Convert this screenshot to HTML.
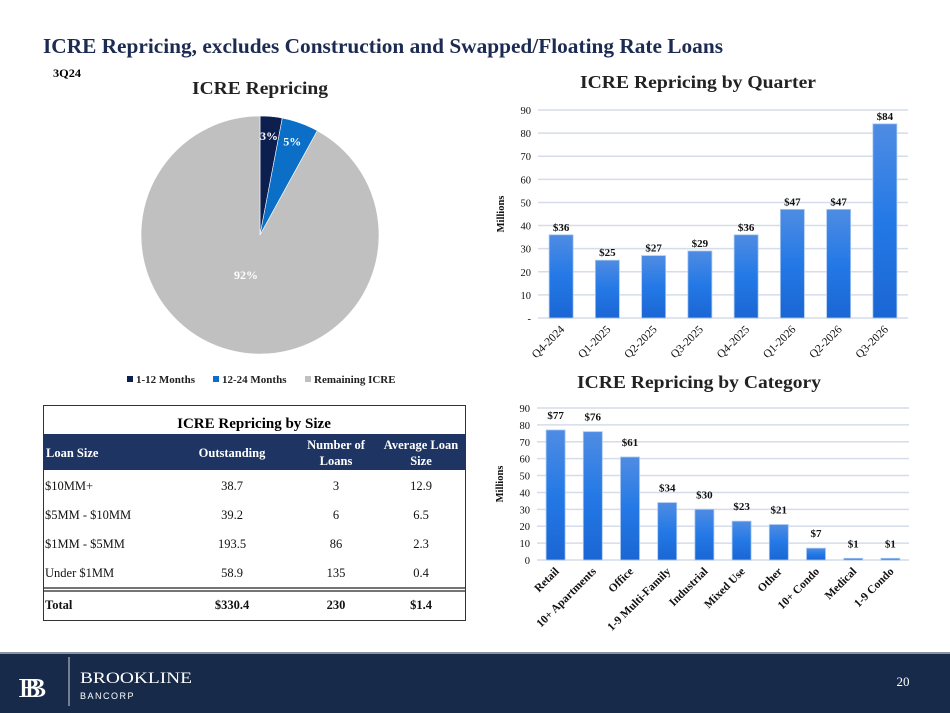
<!DOCTYPE html>
<html><head><meta charset="utf-8"><style>
body{margin:0;background:#fff;}
svg{display:block;font-family:"Liberation Serif",serif;}
</style></head><body>
<svg id="s" width="950" height="713" viewBox="0 0 950 713">
<defs>
<linearGradient id="bg" x1="0" y1="0" x2="0" y2="1"><stop offset="0" stop-color="#4f8ce3"/><stop offset="0.5" stop-color="#2479e6"/><stop offset="1" stop-color="#1a66d4"/></linearGradient>
</defs>
<text x="43" y="53" font-size="21" font-weight="bold" fill="#1b2b52" textLength="680" lengthAdjust="spacingAndGlyphs">ICRE Repricing, excludes Construction and Swapped/Floating Rate Loans</text>
<text x="53" y="77" font-size="12" font-weight="bold" fill="#000" textLength="28" lengthAdjust="spacingAndGlyphs">3Q24</text>
<text x="260" y="94" font-size="18" font-weight="bold" text-anchor="middle" fill="#222" textLength="136" lengthAdjust="spacingAndGlyphs">ICRE Repricing</text>
<g id="pie"></g>
<g id="legend"></g>
<text x="698" y="88" font-size="18" font-weight="bold" text-anchor="middle" fill="#222" textLength="236" lengthAdjust="spacingAndGlyphs">ICRE Repricing by Quarter</text>
<g id="qc"></g>
<text x="699" y="388" font-size="18" font-weight="bold" text-anchor="middle" fill="#222" textLength="244" lengthAdjust="spacingAndGlyphs">ICRE Repricing by Category</text>
<g id="cc"></g>
<g>
<rect x="43.5" y="405.5" width="422" height="215" fill="#fff" stroke="#333" stroke-width="1"/>
<text x="254" y="428" font-size="15" font-weight="bold" text-anchor="middle" fill="#000">ICRE Repricing by Size</text>
<rect x="44" y="434" width="421" height="36" fill="#1e3462"/>
<g font-size="12.5" font-weight="bold" fill="#fff">
<text x="46" y="457">Loan Size</text>
<text x="232" y="457" text-anchor="middle">Outstanding</text>
<text x="336" y="449" text-anchor="middle">Number of</text>
<text x="336" y="465" text-anchor="middle">Loans</text>
<text x="421" y="449" text-anchor="middle">Average Loan</text>
<text x="421" y="465" text-anchor="middle">Size</text>
</g>
<g font-size="12.5" fill="#111">
<text x="45" y="490">$10MM+</text><text x="232" y="490" text-anchor="middle">38.7</text><text x="336" y="490" text-anchor="middle">3</text><text x="421" y="490" text-anchor="middle">12.9</text>
<text x="45" y="519">$5MM - $10MM</text><text x="232" y="519" text-anchor="middle">39.2</text><text x="336" y="519" text-anchor="middle">6</text><text x="421" y="519" text-anchor="middle">6.5</text>
<text x="45" y="548">$1MM - $5MM</text><text x="232" y="548" text-anchor="middle">193.5</text><text x="336" y="548" text-anchor="middle">86</text><text x="421" y="548" text-anchor="middle">2.3</text>
<text x="45" y="577">Under $1MM</text><text x="232" y="577" text-anchor="middle">58.9</text><text x="336" y="577" text-anchor="middle">135</text><text x="421" y="577" text-anchor="middle">0.4</text>
</g>
<line x1="44" y1="588" x2="465" y2="588" stroke="#222" stroke-width="1.2"/>
<line x1="44" y1="591" x2="465" y2="591" stroke="#222" stroke-width="1.2"/>
<g font-size="12.5" font-weight="bold" fill="#111">
<text x="45" y="609">Total</text><text x="232" y="609" text-anchor="middle">$330.4</text><text x="336" y="609" text-anchor="middle">230</text><text x="421" y="609" text-anchor="middle">$1.4</text>
</g>
</g>
<rect x="0" y="652" width="950" height="2" fill="#8a93a3"/>
<rect x="0" y="654" width="950" height="59" fill="#172a4a"/>
<text x="18" y="697" font-size="27" fill="#fff" textLength="23" lengthAdjust="spacingAndGlyphs">B</text>
<text x="24" y="697" font-size="27" fill="#fff" textLength="23" lengthAdjust="spacingAndGlyphs">B</text>
<line x1="69" y1="657" x2="69" y2="706" stroke="#cfd3da" stroke-width="1"/>
<text x="80" y="683" font-size="16" fill="#fff" textLength="112" lengthAdjust="spacingAndGlyphs">BROOKLINE</text>
<text x="80" y="699" font-size="9" fill="#fff" font-family="Liberation Sans,sans-serif" letter-spacing="1.5">BANCORP</text>
<text x="903" y="686" font-size="13" fill="#fff" text-anchor="middle">20</text>
</svg>
<script>
const pieLabels=["1-12 Months","12-24 Months","Remaining ICRE"];
const pieValues=[3,5,92];
const pieColors=["#0d1f4f","#0b6fc7","#c0c0c0"];
const qCats=["Q4-2024","Q1-2025","Q2-2025","Q3-2025","Q4-2025","Q1-2026","Q2-2026","Q3-2026"];
const qVals=[36,25,27,29,36,47,47,84];
const qTicks=[0,10,20,30,40,50,60,70,80,90];
const cCats=["Retail","10+ Apartments","Office","1-9 Multi-Family","Industrial","Mixed Use","Other","10+ Condo","Medical","1-9 Condo"];
const cVals=[77,76,61,34,30,23,21,7,1,1];
const cTicks=[0,10,20,30,40,50,60,70,80,90];
const NS="http://www.w3.org/2000/svg";
function mk(p,t,a,txt){const e=document.createElementNS(NS,t);for(const k in a)e.setAttribute(k,a[k]);if(txt!=null)e.textContent=txt;p.appendChild(e);return e;}
(function(){
const g=document.getElementById('pie');const cx=260,cy=235,r=119;
const tot=pieValues.reduce((a,b)=>a+b,0);let a0=0;
pieValues.forEach((v,i)=>{
const a1=a0+v/tot*2*Math.PI;
const x0=cx+r*Math.sin(a0),y0=cy-r*Math.cos(a0),x1=cx+r*Math.sin(a1),y1=cy-r*Math.cos(a1);
const large=(a1-a0)>Math.PI?1:0;
const p=mk(g,'path',{d:`M${cx},${cy}L${x0},${y0}A${r},${r} 0 ${large} 1 ${x1},${y1}Z`,fill:pieColors[i],stroke:"#fff","stroke-width":0.6});


const am=(a0+a1)/2;const f=0.8;
let lx=cx+r*f*Math.sin(am),ly=cy-r*f*Math.cos(am);
if(i==2){lx=246;ly=279;}
const t=mk(g,'text',{x:lx,y:ly,"font-size":12,"font-weight":"bold",fill:"#fff","text-anchor":"middle"},v+"%");


a0=a1;});
const lg=document.getElementById('legend');const lx=[127,213,305];
pieLabels.forEach((l,i)=>{
mk(lg,'rect',{x:lx[i],y:376,width:6,height:6,fill:pieColors[i]});
const t=mk(lg,'text',{x:lx[i]+9,y:383,"font-size":11,"font-weight":"bold",fill:"#222"},l);


});
})();
function bars(id,cats,vals,ticks,L,R,yTop,yBot,bw,rotFs,labelDy,tickDash){
const g=document.getElementById(id);
const max=ticks[ticks.length-1];
const y=v=>yBot-(v/max)*(yBot-yTop);
const step=(R-L)/cats.length;const xc=i=>L+step*(i+0.5);
ticks.forEach(t=>{
mk(g,'line',{x1:L,x2:R,y1:y(t),y2:y(t),stroke:"#d5dcea","stroke-width":1.5});
const tl=mk(g,'text',{x:L-7,y:y(t)+4,"font-size":10.5,"text-anchor":"end",fill:"#111"},(t===0&&tickDash)?"-":t);


});
const yt=mk(g,'text',{x:0,y:0,"font-size":10.5,"font-weight":"bold","text-anchor":"middle",fill:"#111",transform:`translate(${L-34},${(yTop+yBot)/2}) rotate(-90)`},"Millions");


vals.forEach((v,i)=>{
const b=mk(g,'rect',{x:xc(i)-bw/2,y:y(v),width:bw,height:yBot-y(v),fill:"url(#bg)",stroke:"#a9c8f2","stroke-width":0.8});


const t=mk(g,'text',{x:xc(i),y:y(v)-labelDy,"font-size":11,"font-weight":"bold","text-anchor":"middle",fill:"#111"},"$"+v);


const c=mk(g,'text',{x:0,y:0,"font-size":rotFs,"font-weight":id==='cc'?"bold":"normal","text-anchor":"end",fill:"#111",transform:`translate(${xc(i)+4},${yBot+12}) rotate(-45)`},cats[i]);


});
}
bars('qc',qCats,qVals,qTicks,538,908,110,318,24,11.5,4,true);
bars('cc',cCats,cVals,cTicks,537,909,408,560,19,11.5,11,false);
</script>
</body></html>
